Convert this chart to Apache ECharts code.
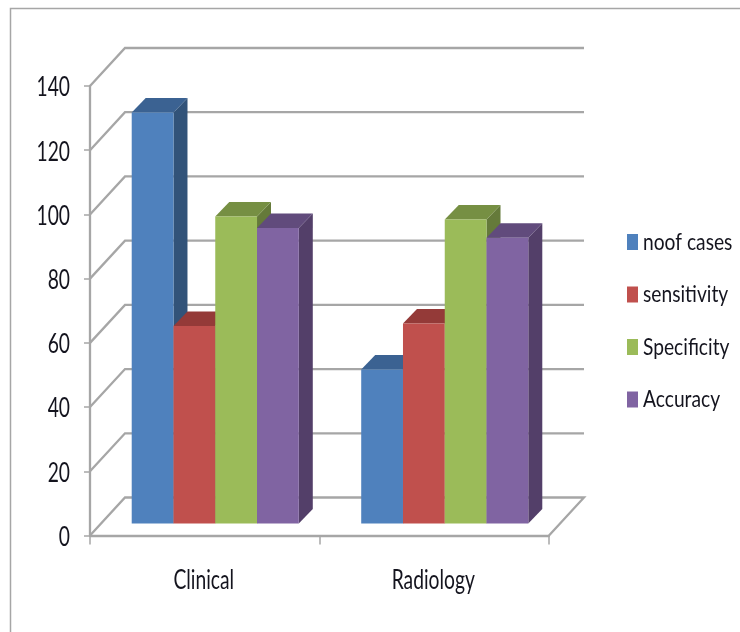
<!DOCTYPE html>
<html>
<head>
<meta charset="utf-8">
<style>
  html, body { margin: 0; padding: 0; background: #fff; }
  #chart { width: 740px; height: 632px; }
</style>
<script src="https://cdn.jsdelivr.net/npm/echarts@6/dist/echarts.min.js"></script>
</head>
<body>
<div id="chart"></div>
<script>
// Study groups on the horizontal axis
const categories = ['Clinical', 'Radiology'];

// Measures per group
const noofCases   = [128, 48];
const sensitivity = [61.5, 62.3];
const specificity = [95.6, 94.7];
const accuracy    = [92, 89];

const yTicks = [0, 20, 40, 60, 80, 100, 120, 140];

const FONT_FAMILY = 'Lato, sans-serif';
const TEXT_COLOR = '#14141e';
const GRID_COLOR = '#a6a6a6';

// Labels are set tall and condensed: a wide face squeezed horizontally
const TEXT_SCALE_X = 0.74;
const AXIS_FONT = '26px ' + FONT_FAMILY;
const LEGEND_FONT = '24px ' + FONT_FAMILY;
const LEGEND_SCALE_X = 0.8;

// Oblique projection of the box: wall depth, and where the bars stand on the floor
const WALL_DX = 35, WALL_DY = -38;
const PLANE_DX = 10.5, PLANE_DY = -12;
const BAR_DX = 14, BAR_DY = -14.5;
const BAR_BAND_FRACTION = 0.182;

const palette = [
  { name: 'noof cases',  values: noofCases,   front: '#4f81bd', top: '#3b6292', side: '#325379' },
  { name: 'sensitivity', values: sensitivity, front: '#c0504d', top: '#943a38', side: '#7f3230' },
  { name: 'Specificity', values: specificity, front: '#9bbb59', top: '#768f43', side: '#657a3a' },
  { name: 'Accuracy',    values: accuracy,    front: '#8064a2', top: '#614b7c', side: '#533f69' }
];

// Legend layout, swatches come from the legend component and names sit beside them
const LEGEND_LEFT = 627, LEGEND_TOP = 234, LEGEND_STEP = 52.5, LEGEND_TEXT_X = 643;

function squeezedText(text, x, y, align, font, scaleX) {
  return {
    type: 'text',
    x: x,
    y: y,
    scaleX: scaleX,
    silent: true,
    style: { text: text, font: font, fill: TEXT_COLOR, align: align, verticalAlign: 'middle' }
  };
}

// Floor edge and wall gridlines, one bent line and one axis label for every y tick
function renderWallLine(params, api) {
  const value = api.value(0);
  const band = api.size([1, 0])[0];
  const left = api.coord([0, value]);
  const x0 = left[0] - band / 2;
  const y = left[1];
  const x1 = x0 + band * categories.length;
  const points = [[x0, y], [x0 + WALL_DX, y + WALL_DY], [x1 + WALL_DX, y + WALL_DY]];
  if (value === 0) {
    points.push([x1, y]);
  }
  return {
    type: 'group',
    children: [
      {
        type: 'polyline',
        shape: { points: points },
        style: { stroke: GRID_COLOR, lineWidth: 2.3, fill: null },
        silent: true
      },
      squeezedText(String(value), x0 - 20, y + 2, 'right', AXIS_FONT, TEXT_SCALE_X)
    ]
  };
}

// Category name below each band
function renderCategoryLabel(params, api) {
  const index = api.value(0);
  const point = api.coord([index, 0]);
  return squeezedText(categories[index], point[0] - 1, point[1] + 45, 'center', AXIS_FONT, TEXT_SCALE_X);
}

// One extruded column: front face, top face and right side
function makeBarRenderer(seriesIndex, colors) {
  return function (params, api) {
    const category = api.value(0);
    const value = api.value(1);
    const band = api.size([1, 0])[0];
    const width = band * BAR_BAND_FRACTION;
    const topPoint = api.coord([category, value]);
    const basePoint = api.coord([category, 0]);
    const xl = topPoint[0] + PLANE_DX + (seriesIndex - palette.length / 2) * width;
    const xr = xl + width;
    const yt = topPoint[1] + PLANE_DY;
    const yb = basePoint[1] + PLANE_DY;
    return {
      type: 'group',
      children: [
        {
          type: 'polygon',
          shape: { points: [[xr, yt], [xr + BAR_DX, yt + BAR_DY], [xr + BAR_DX, yb + BAR_DY], [xr, yb]] },
          style: { fill: colors.side }
        },
        {
          type: 'polygon',
          shape: { points: [[xl, yt], [xl + BAR_DX, yt + BAR_DY], [xr + BAR_DX, yt + BAR_DY], [xr, yt]] },
          style: { fill: colors.top }
        },
        {
          type: 'rect',
          shape: { x: xl, y: yt, width: width, height: yb - yt },
          style: { fill: colors.front }
        }
      ]
    };
  };
}

const chart = echarts.init(document.getElementById('chart'), null, { renderer: 'canvas' });

chart.setOption({
  animation: false,
  backgroundColor: '#ffffff',
  graphic: [{
    type: 'polyline',
    silent: true,
    shape: { points: [[10.5, 632], [10.5, 8.5], [740, 8.5]] },
    style: { stroke: '#a6a6a6', lineWidth: 1.5, fill: null }
  }].concat(palette.map((p, i) => ({
    type: 'text',
    silent: true,
    x: LEGEND_TEXT_X,
    y: LEGEND_TOP + 8 + i * LEGEND_STEP,
    scaleX: LEGEND_SCALE_X,
    style: { text: p.name, font: LEGEND_FONT, fill: TEXT_COLOR, align: 'left', verticalAlign: 'middle' }
  }))),
  grid: { left: 90, top: 86, width: 459, height: 449.5 },
  legend: {
    orient: 'vertical',
    left: LEGEND_LEFT,
    top: LEGEND_TOP,
    padding: 0,
    icon: 'rect',
    itemWidth: 11,
    itemHeight: 16,
    itemGap: LEGEND_STEP - 16,
    selectedMode: false,
    data: palette.map(p => p.name),
    formatter: () => ' ',
    textStyle: { fontSize: 10 }
  },
  xAxis: {
    type: 'category',
    data: categories,
    axisLine: { show: true, lineStyle: { color: GRID_COLOR, width: 2.3 } },
    axisTick: { show: true, alignWithLabel: false, length: 9, lineStyle: { color: GRID_COLOR, width: 1.5 } },
    axisLabel: { show: false }
  },
  yAxis: {
    type: 'value',
    min: 0,
    max: 140,
    interval: 20,
    splitLine: { show: false },
    axisLine: { show: true, lineStyle: { color: GRID_COLOR, width: 2.3 } },
    axisTick: { show: true, length: 6, lineStyle: { color: GRID_COLOR, width: 1.5 } },
    axisLabel: { show: false }
  },
  series: [
    {
      type: 'custom',
      silent: true,
      z: 1,
      renderItem: renderWallLine,
      data: yTicks.map(v => [v]),
      encode: { y: 0 }
    },
    {
      type: 'custom',
      silent: true,
      z: 1,
      renderItem: renderCategoryLabel,
      data: categories.map((c, i) => [i]),
      encode: { x: 0 }
    }
  ].concat(palette.map((p, i) => ({
    type: 'custom',
    name: p.name,
    z: 2 + i,
    itemStyle: { color: p.front },
    renderItem: makeBarRenderer(i, p),
    data: p.values.map((v, c) => [c, v]),
    encode: { x: 0, y: 1 }
  })))
});
</script>
</body>
</html>
